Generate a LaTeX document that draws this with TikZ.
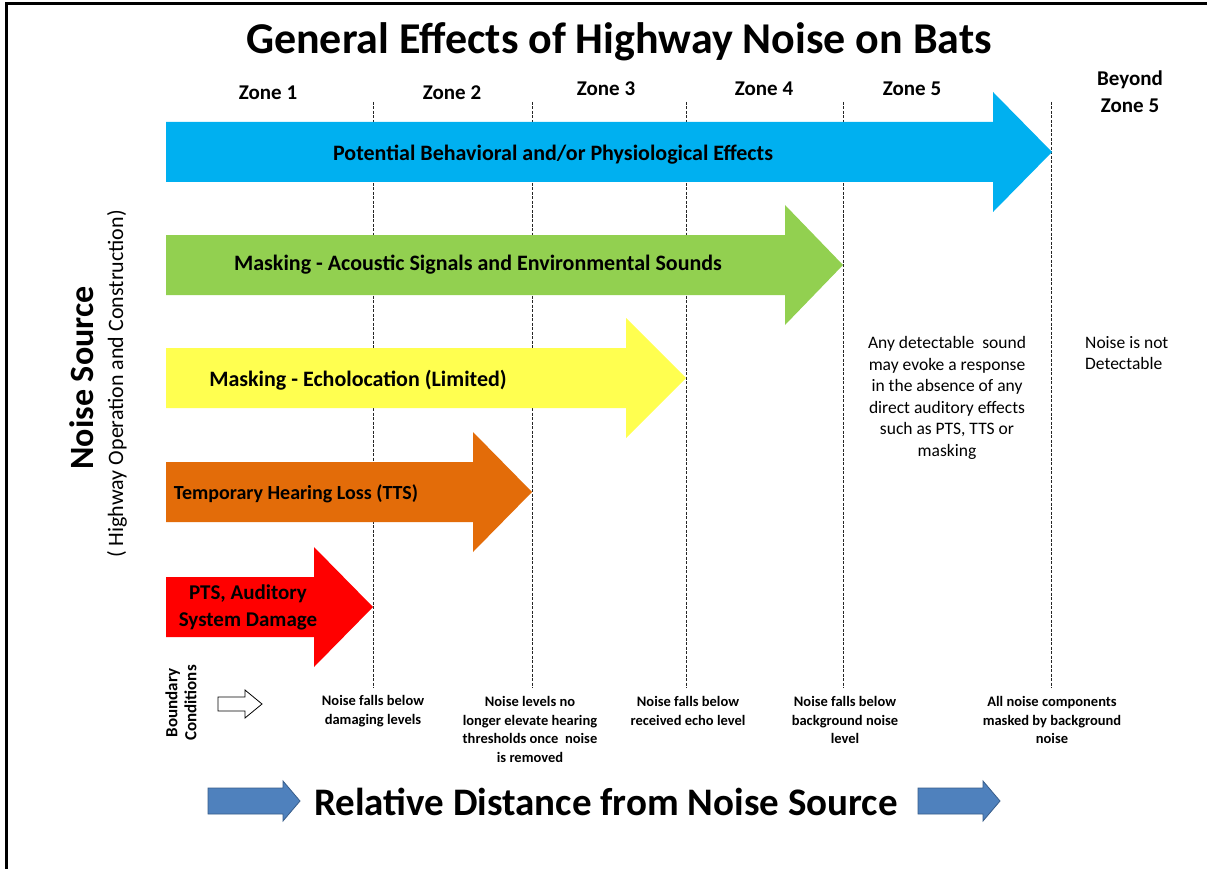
\documentclass[tikz,border=0pt]{standalone}
\usepackage{fontspec}
\setmainfont{Carlito}
\definecolor{cblue}{HTML}{00B0F0}
\definecolor{cgreen}{HTML}{92D050}
\definecolor{cyellow}{HTML}{FFFF50}
\definecolor{corange}{HTML}{E36C09}
\definecolor{cred}{HTML}{FF0000}
\definecolor{sblue}{HTML}{4F81BD}
\definecolor{sblueline}{HTML}{385D8A}
% effect arrow: colour, centre y, head base x, tip x
\newcommand\effectarrow[4]{%
  \fill[#1] (166,#2-30) -- (#3,#2-30) -- (#3,#2-60) -- (#4,#2) -- (#3,#2+60) -- (#3,#2+30) -- (166,#2+30) -- cycle;}
% small block arrow: style, left x, head base x, tip x, centre y, body half, head half
\newcommand\blockarrow[7]{%
  \draw[#1] (#2,#5-#6) -- (#3,#5-#6) -- (#3,#5-#7) -- (#4,#5) -- (#3,#5+#7) -- (#3,#5+#6) -- (#2,#5+#6) -- cycle;}
\begin{document}
\begin{tikzpicture}[x=1pt,y=-1pt,
  zonelbl/.style={font=\fontsize{21}{25}\selectfont\bfseries, inner sep=0pt},
  arrowlbl/.style={font=\fontsize{22}{27}\selectfont\bfseries, inner sep=0pt, align=center},
  bndlbl/.style={font=\fontsize{14.5}{18.5}\selectfont\bfseries, inner sep=0pt, align=center},
  sidelbl/.style={font=\fontsize{17.5}{21.5}\selectfont, inner sep=0pt, align=center},
  zoneline/.style={black!85, line width=0.9pt, dash pattern=on 3pt off 1.5pt},
  bluearrow/.style={fill=sblue, draw=sblueline, line width=0.8pt},
  hollowarrow/.style={fill=white, draw=black, line width=0.8pt}
]
\useasboundingbox (0,0) rectangle (1207,869);
\fill[white] (0,0) rectangle (1207,869);
\draw[line width=3pt] (6.5,869) -- (6.5,4) -- (1207,4);

\node[font=\fontsize{44}{50}\selectfont\bfseries] (title) at (619,42) {General Effects of Highway Noise on Bats};

\node[zonelbl] (z1) at (268,93) {Zone 1};
\node[zonelbl] (z2) at (452,93) {Zone 2};
\node[zonelbl] (z3) at (606,89) {Zone 3};
\node[zonelbl] (z4) at (764,89) {Zone 4};
\node[zonelbl] (z5) at (912,89) {Zone 5};
\node[zonelbl, align=center, font=\fontsize{21}{27}\selectfont\bfseries] (zb) at (1130,92) {Beyond\\Zone 5};

% zone boundaries
\foreach \xx in {373,532,686,843,1051}
  \draw[zoneline] (\xx,102) -- (\xx,688);

% effect arrows
\effectarrow{cblue}{152}{993}{1052}
\effectarrow{cgreen}{265}{785}{843}
\effectarrow{cyellow}{378}{626}{686}
\effectarrow{corange}{492}{473}{532}
\effectarrow{cred}{607}{314}{373}

\node[arrowlbl] (a1) at (553,155) {Potential Behavioral and/or Physiological Effects};
\node[arrowlbl] (a2) at (478,265) {Masking - Acoustic Signals and Environmental Sounds};
\node[arrowlbl] (a3) at (358,380) {Masking - Echolocation (Limited)};
\node[arrowlbl, font=\fontsize{20}{27}\selectfont\bfseries] (a4) at (296,494) {Temporary Hearing Loss (TTS)};
\node[arrowlbl, font=\fontsize{21}{27}\selectfont\bfseries] (a5) at (248,607) {PTS, Auditory\\System Damage};

% left side
\node[rotate=90, font=\fontsize{34}{38}\selectfont\bfseries] (ns) at (82,378) {Noise Source};
\node[rotate=90, font=\fontsize{22}{26}\selectfont] (nss) at (117,384) {( Highway Operation and Construction)};

% right texts
\node[sidelbl] (t5) at (947,398) {Any detectable\ \ sound\\may evoke a response\\in the absence of any\\direct auditory effects\\such as PTS, TTS or\\masking};
\node[sidelbl, align=left, anchor=north west] (tb) at (1085,336) {Noise is not\\Detectable};

% boundary conditions
\node[rotate=90, font=\fontsize{17}{19}\selectfont\bfseries, align=center] (bc) at (181,703) {Boundary\\Conditions};
\blockarrow{hollowarrow}{218}{245}{262}{704}{7}{14}

\node[bndlbl] (b1) at (373,711) {Noise falls below\\damaging levels};
\node[bndlbl] (b2) at (530,729.5) {Noise levels no\\longer elevate hearing\\thresholds once\ \ noise\\is removed};
\node[bndlbl] (b3) at (688,711) {Noise falls below\\received echo level};
\node[bndlbl] (b4) at (845,720) {Noise falls below\\background noise\\level};
\node[bndlbl] (b5) at (1052,720) {All noise components\\masked by background\\noise};

% bottom axis
\node[font=\fontsize{39}{44}\selectfont\bfseries] (rd) at (606,802) {Relative Distance from Noise Source};
\blockarrow{bluearrow}{208}{283}{300}{801}{13}{20}
\blockarrow{bluearrow}{918}{983}{1000}{801}{13}{20}
\end{tikzpicture}
\end{document}
